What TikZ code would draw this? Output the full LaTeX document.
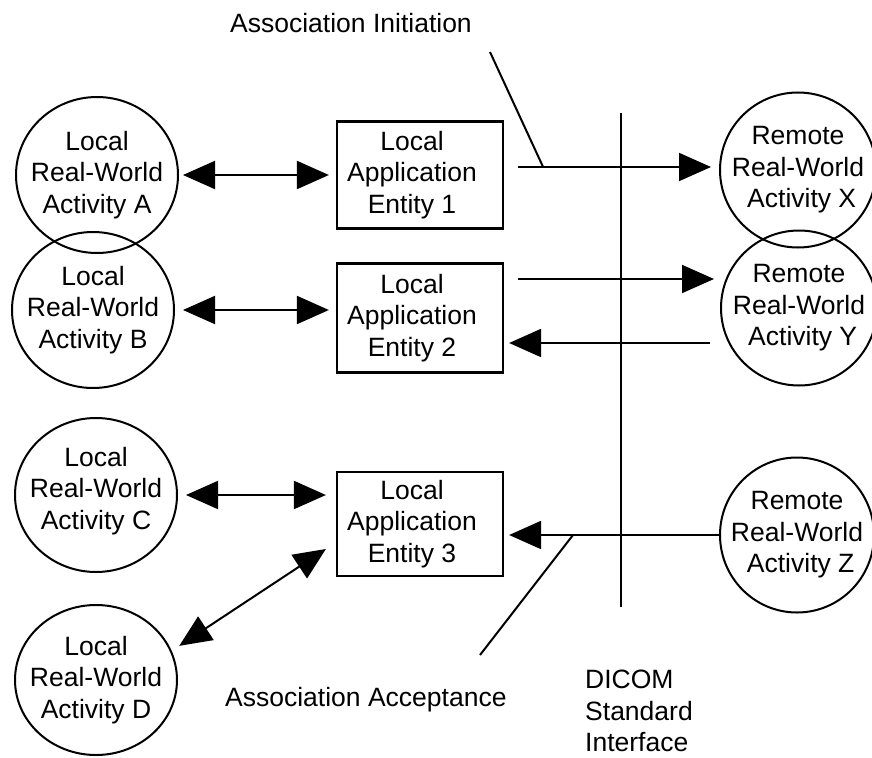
\documentclass[tikz,border=0pt]{standalone}
\usepackage{fontspec}
\setmainfont{Liberation Sans}
\usetikzlibrary{arrows.meta, shapes.geometric}

\tikzset{
    actv/.style={draw, ellipse, line width=2pt, inner sep=0pt},
    entity/.style={draw, rectangle, line width=2.2pt, inner sep=0pt,
        minimum width=166pt, minimum height=107pt},
    lbl/.style={inner sep=0pt, align=center},
    conn/.style={line width=2pt},
    toarrow/.style={conn, -{Triangle[length=32pt, width=28pt]}},
    biarrow/.style={conn, {Triangle[length=32pt, width=28pt]}-{Triangle[length=32pt, width=28pt]}}
}

\begin{document}
\begin{tikzpicture}[x=1pt, y=-1pt, font=\fontsize{26.5}{31.5}\selectfont]

            \useasboundingbox (0,0) rectangle (872,757);

            % local activities
            \node[actv, minimum width=162pt, minimum height=156pt] (actA) at (97,175) {};
            \node[lbl] (actAtxt) at (actA) {Local\\Real-World\\Activity A};
            \node[actv, minimum width=162pt, minimum height=156pt] (actB) at (93,310) {};
            \node[lbl] (actBtxt) at (actB) {Local\\Real-World\\Activity B};
            \node[actv, minimum width=162pt, minimum height=154pt] (actC) at (96,495) {};
            \node[lbl] (actCtxt) at ([yshift=4pt]actC) {Local\\Real-World\\Activity C};
            \node[actv, minimum width=162pt, minimum height=150pt] (actD) at (96,680) {};
            \node[lbl] (actDtxt) at (actD) {Local\\Real-World\\Activity D};

            % remote activities
            \node[actv, minimum width=156pt, minimum height=155pt] (actX) at (798,170) {};
            \node[lbl] (actXtxt) at (actX) {Remote\\Real-World\\\ Activity X};
            \node[actv, minimum width=156pt, minimum height=155pt] (actY) at (799,308) {};
            \node[lbl] (actYtxt) at (actY) {Remote\\Real-World\\\ Activity Y};
            \node[actv, minimum width=154pt, minimum height=155pt] (actZ) at (797,535) {};
            \node[lbl] (actZtxt) at (actZ) {Remote\\Real-World\\\ Activity Z};

            % application entities
            \node[entity] (ent1) at (420,175) {};
            \node[lbl] (ent1txt) at ([xshift=-8pt]ent1) {Local\\Application\\Entity 1};
            \node[entity, minimum height=109pt] (ent2) at (420,318) {};
            \node[lbl] (ent2txt) at ([xshift=-8pt]ent2) {Local\\Application\\Entity 2};
            \node[entity, minimum height=104pt] (ent3) at (420,524) {};
            \node[lbl] (ent3txt) at ([xshift=-8pt]ent3) {Local\\Application\\Entity 3};

            % DICOM interface
            \coordinate (ifctop) at (621,113);
            \coordinate (ifcbot) at (621,607);
            \draw[conn] (ifctop) -- (ifcbot);
            \node[inner sep=0pt, align=left, anchor=north west] (ifclbl) at (585,670) {DICOM\\Standard\\Interface};

            % local links
            \draw[biarrow, shorten <=4pt, shorten >=7pt] (actA.east) -- (actA.east -| ent1.west);
            \draw[biarrow, shorten <=8pt, shorten >=7pt] (actB.east) -- (actB.east -| ent2.west);
            \draw[biarrow, shorten <=8pt, shorten >=10pt] (actC.east) -- (actC.east -| ent3.west);
            \draw[biarrow] ([xshift=10pt]actD.25) -- ([xshift=-10pt, yshift=-25pt]ent3.west);

            % associations
            \coordinate (xtail) at ([xshift=14pt, yshift=8pt]ent1.east);
            \draw[toarrow, shorten >=8pt] (xtail) -- (xtail -| actX.west);
            \coordinate (ytail) at ([xshift=14pt, yshift=39pt]ent2.east);
            \draw[toarrow, shorten >=6pt] (ytail) -- (ytail -| actY.west);
            \coordinate (yback) at ([xshift=-10pt, yshift=-35pt]actY.west);
            \draw[toarrow, shorten >=5pt] (yback) -- (yback -| ent2.east);
            \draw[toarrow, shorten >=5pt] (actZ.west) -- (actZ.west -| ent3.east);

            % initiation / acceptance labels
            \node[inner sep=0pt, anchor=base west] (initlbl) at (230,33) {Association Initiation};
            \coordinate (initpt) at ([xshift=25pt]xtail);
            \coordinate (inittop) at (490,52);
            \draw[conn] (inittop) -- (initpt);

            \node[inner sep=0pt, anchor=base west] (acclbl) at (225,706) {Association Acceptance};
            \coordinate (accpt) at (573,535);
            \coordinate (accbot) at (480,655);
            \draw[conn] (accpt) -- (accbot);

        \end{tikzpicture}
\end{document}
